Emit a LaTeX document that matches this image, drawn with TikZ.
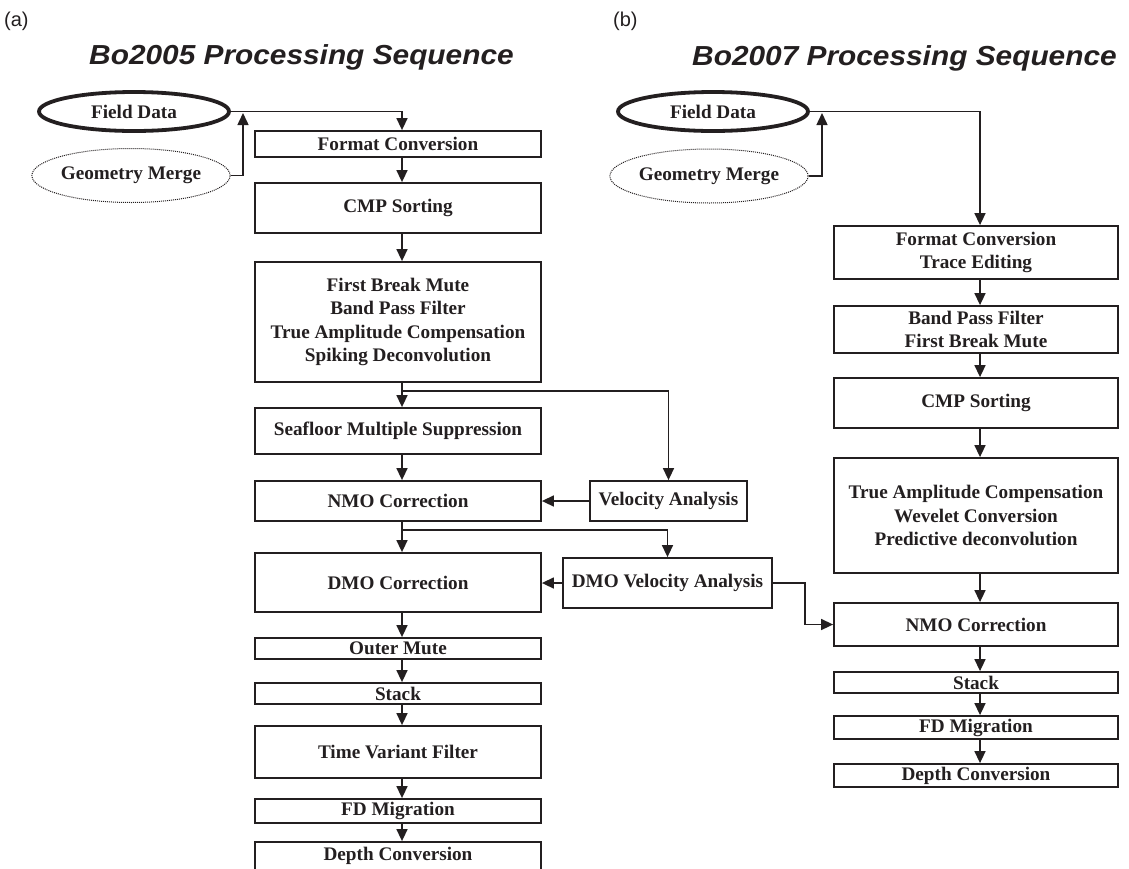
\documentclass[tikz,border=0pt]{standalone}
\usepackage{fontspec}
\setmainfont{Liberation Serif}
\newfontfamily\arialfont{Liberation Sans}
\usetikzlibrary{arrows.meta,shapes.geometric}
\definecolor{ink}{HTML}{231F20}
\tikzset{
  box/.style={draw=ink, line width=1.8pt, text=ink, rectangle, inner sep=0pt, align=center,
    font=\bfseries\fontsize{19.2}{23.5}\selectfont},
  fieldbox/.style={ellipse, draw=ink, line width=3.8pt, text=ink, inner sep=0pt,
    minimum width=190pt, minimum height=39pt, font=\bfseries\fontsize{19.2}{23.5}\selectfont},
  geobox/.style={ellipse, draw=ink, line width=1pt, dash pattern=on 1pt off 1pt, text=ink, inner sep=0pt,
    minimum width=172pt, minimum height=54pt, font=\bfseries\fontsize{19.2}{23.5}\selectfont},
  arr/.style={draw=ink, line width=1.5pt, -{Triangle[length=12pt,width=11pt]}},
  ttl/.style={text=ink, inner sep=0pt, xscale=1.085, font=\arialfont\bfseries\itshape\fontsize{27.5}{27.5}\selectfont},
  lbl/.style={text=ink, inner sep=0pt, font=\arialfont\fontsize{20}{20}\selectfont}
}
\newcommand\mybox[6]{\node[box, minimum width=#4pt, minimum height=#5pt] (#1) at (#2,#3) {#6};}
\begin{document}
\begin{tikzpicture}[x=1pt,y=-1pt]
\useasboundingbox (0,0) rectangle (1129,868);
% labels and titles
\node[lbl, anchor=west] (la) at (4,21) {(a)};
\node[lbl, anchor=west] (lb) at (613,21) {(b)};
\node[ttl, anchor=base] (ta) at (301.5,64.5) {Bo2005 Processing Sequence};
\node[ttl, anchor=base] (tb) at (904.5,65.5) {Bo2007 Processing Sequence};
% ---- (a)
\node[fieldbox] (fieldA) at (134,111.5) {Field Data};
\node[geobox] (geoA) at (131,175.5) {Geometry Merge};
\mybox{fcA}{398}{144}{286}{26}{Format Conversion}
\mybox{cmpA}{398}{208}{286}{50}{CMP Sorting}
\mybox{fbA}{398}{322}{286}{120}{First Break Mute\\Band Pass Filter\\True Amplitude Compensation\\Spiking Deconvolution}
\mybox{sfA}{398}{431}{286}{46}{Seafloor Multiple Suppression}
\mybox{nmoA}{398}{501}{286}{40}{NMO Correction}
\mybox{dmoA}{398}{582.5}{286}{59}{DMO Correction}
\mybox{omA}{398}{648.5}{286}{21}{Outer Mute}
\mybox{stA}{398}{693.5}{286}{21}{Stack}
\mybox{tvA}{398}{752}{286}{52}{Time Variant Filter}
\mybox{fdA}{398}{811}{286}{24}{FD Migration}
\mybox{dcA}{398}{856}{286}{28}{Depth Conversion}
\mybox{vaA}{668.5}{501}{157}{40}{Velocity Analysis}
\mybox{dvA}{667.5}{583}{209}{50}{DMO Velocity Analysis}
\coordinate (xA) at (402,0);
\coordinate (jA) at (243,113);
\coordinate (b1) at (402,391);
\coordinate (b2) at (402,530);
\draw[arr] (fieldA.east) -| (fcA.north -| xA);
\draw[arr] (geoA.east) -| (jA);
\foreach \a/\b in {fcA/cmpA,cmpA/fbA,fbA/sfA,sfA/nmoA,nmoA/dmoA,dmoA/omA,omA/stA,stA/tvA,tvA/fdA,fdA/dcA}
  \draw[arr] (\a.south -| xA) -- (\b.north -| xA);
\draw[arr] (b1) -| (vaA.north);
\draw[arr] (b2) -| (dvA.north);
\draw[arr] (vaA.west) -- (nmoA.east);
\draw[arr] (dvA.west) -- (dvA.west -| dmoA.east);
% ---- (b)
\node[fieldbox] (fieldB) at (713,111.5) {Field Data};
\node[geobox] (geoB) at (709,176) {Geometry Merge};
\mybox{fcB}{976}{252.5}{284}{53}{Format Conversion\\Trace Editing}
\mybox{bpB}{976}{329.5}{284}{47}{Band Pass Filter\\First Break Mute}
\mybox{cmpB}{976}{403}{284}{50}{CMP Sorting}
\mybox{taB}{976}{515.5}{284}{115}{True Amplitude Compensation\\Wevelet Conversion\\Predictive deconvolution}
\mybox{nmoB}{976}{624.5}{284}{43}{NMO Correction}
\mybox{stB}{976}{682.5}{284}{21}{Stack}
\mybox{fdB}{976}{727.5}{284}{23}{FD Migration}
\mybox{dcB}{976}{775.5}{284}{23}{Depth Conversion}
\coordinate (xB) at (980,0);
\coordinate (jB) at (822,113);
\draw[arr] (fieldB.east) -| (fcB.north -| xB);
\draw[arr] (geoB.east) -| (jB);
\foreach \a/\b in {fcB/bpB,bpB/cmpB,cmpB/taB,taB/nmoB,nmoB/stB,stB/fdB,fdB/dcB}
  \draw[arr] (\a.south -| xB) -- (\b.north -| xB);
\draw[arr] (dvA.east) -- ++(32,0) |- (nmoB.west);
\end{tikzpicture}
\end{document}
